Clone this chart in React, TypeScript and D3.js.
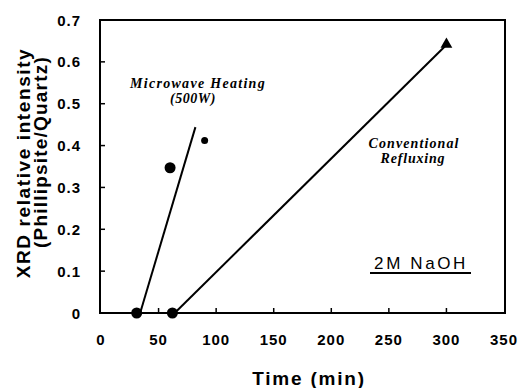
import React from "react";
import * as d3 from "d3";

const xTicks = [0, 50, 100, 150, 200, 250, 300, 350];
const yTicks = [0, 0.1, 0.2, 0.3, 0.4, 0.5, 0.6, 0.7];
const yTickLabels = ["0", "0.1", "0.2", "0.3", "0.4", "0.5", "0.6", "0.7"];

const microwavePoints = [
  { t: 31, v: 0, r: 5.5 },
  { t: 60, v: 0.347, r: 5.5 },
  { t: 90, v: 0.412, r: 3.5 },
];
const microwaveFit = [
  { t: 34, v: 0 },
  { t: 82, v: 0.444 },
];
const conventionalPoints = [{ t: 62, v: 0 }];
const conventionalTriangle = [{ t: 300, v: 0.642 }];
const conventionalFit = [
  { t: 64, v: 0 },
  { t: 299, v: 0.638 },
];

export default function App() {
  const W = 523, H = 388;
  const left = 100, right = 505, top = 20, bottom = 313;
  const x = d3.scaleLinear().domain([0, 350]).range([left + 1, right - 1]);
  const y = d3.scaleLinear().domain([0, 0.7]).range([bottom, top]);
  const line = d3.line<{ t: number; v: number }>().x(d => x(d.t)).y(d => y(d.v));
  const sans = "'Liberation Sans', Arial, sans-serif";
  const serif = "'Liberation Serif', 'Times New Roman', serif";
  const tri = d3.symbol().type(d3.symbolTriangle).size(60)();

  return (
    <svg width={W} height={H} style={{ position: "absolute", left: 0, top: 0, background: "#fff" }}>
      <rect x={0} y={0} width={W} height={H} fill="#fff" />
      {/* frame */}
      <rect x={left} y={top} width={right - left} height={bottom - top} fill="none" stroke="#000" strokeWidth={2} />
      {/* ticks */}
      {xTicks.slice(1, -1).map(t => (
        <line key={"xt" + t} x1={x(t)} x2={x(t)} y1={bottom} y2={bottom - 5} stroke="#000" strokeWidth={1.5} />
      ))}
      {yTicks.slice(1, -1).map(t => (
        <line key={"yt" + t} x1={left} x2={left + 5} y1={y(t)} y2={y(t)} stroke="#000" strokeWidth={1.5} />
      ))}
      {/* tick labels */}
      {xTicks.map(t => (
        <text key={"xl" + t} x={x(t)} y={345} textAnchor="middle" fontFamily={sans} fontWeight="bold" fontSize={15} letterSpacing={1} fill="#000">
          {t}
        </text>
      ))}
      {yTicks.map((t, i) => (
        <text key={"yl" + t} x={81} y={y(t) + 5.5} textAnchor="end" fontFamily={sans} fontWeight="bold" fontSize={15} letterSpacing={1} fill="#000">
          {yTickLabels[i]}
        </text>
      ))}
      {/* axis titles */}
      <text x={309} y={385} textAnchor="middle" fontFamily={sans} fontWeight="bold" fontSize={19} letterSpacing={1.8} fill="#000">
        Time (min)
      </text>
      <g transform="translate(30,163) rotate(-90)">
        <text x={0} y={0} textAnchor="middle" fontFamily={sans} fontWeight="bold" fontSize={19} letterSpacing={1.6} fill="#000">
          XRD relative intensity
        </text>
        <text x={11} y={17} textAnchor="middle" fontFamily={sans} fontWeight="bold" fontSize={19} letterSpacing={1.2} fill="#000">
          (Phillipsite/Quartz)
        </text>
      </g>
      {/* lines */}
      <path d={line(microwaveFit) || ""} fill="none" stroke="#000" strokeWidth={2} />
      <path d={line(conventionalFit) || ""} fill="none" stroke="#000" strokeWidth={2} />
      {/* markers */}
      {microwavePoints.map((p, i) => (
        <circle key={"m" + i} cx={x(p.t)} cy={y(p.v)} r={p.r} fill="#000" />
      ))}
      {conventionalPoints.map((p, i) => (
        <circle key={"c" + i} cx={x(p.t)} cy={y(p.v)} r={5.5} fill="#000" />
      ))}
      {conventionalTriangle.map((p, i) => (
        <path key={"tr" + i} d={tri || ""} transform={`translate(${x(p.t)},${y(p.v)})`} fill="#000" />
      ))}
      {/* annotations */}
      <text x={198} y={88} textAnchor="middle" fontFamily={serif} fontStyle="italic" fontWeight="bold" fontSize={14} letterSpacing={1.3} fill="#000">
        Microwave Heating
      </text>
      <text x={193} y={103} textAnchor="middle" fontFamily={serif} fontStyle="italic" fontWeight="bold" fontSize={14} letterSpacing={0.5} fill="#000">
        (500W)
      </text>
      <text x={414} y={148} textAnchor="middle" fontFamily={serif} fontStyle="italic" fontWeight="bold" fontSize={14} letterSpacing={1.1} fill="#000">
        Conventional
      </text>
      <text x={413} y={163} textAnchor="middle" fontFamily={serif} fontStyle="italic" fontWeight="bold" fontSize={14} letterSpacing={0.8} fill="#000">
        Refluxing
      </text>
      <text x={421} y={269} textAnchor="middle" fontFamily={sans} fontSize={17} letterSpacing={2.6} fill="#000">
        2M NaOH
      </text>
      <line x1={370} x2={471} y1={273} y2={273} stroke="#000" strokeWidth={2} />
    </svg>
  );
}
